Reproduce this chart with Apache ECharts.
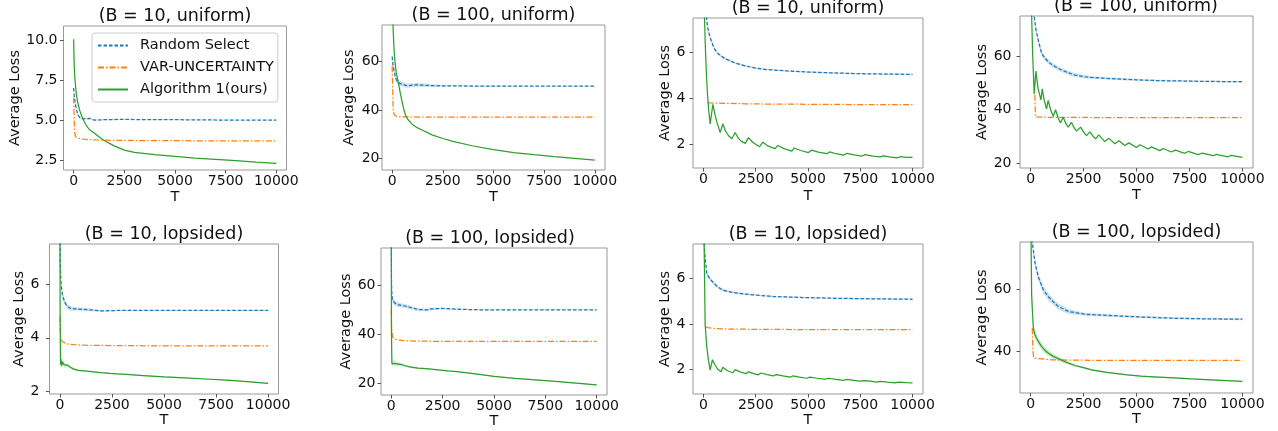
<!DOCTYPE html>
<html><head><meta charset="utf-8">
<script src="https://cdn.jsdelivr.net/npm/echarts@6/dist/echarts.min.js"></script>
<style>html,body{margin:0;padding:0;background:#fff}#c{width:1278px;height:431px}</style>
</head><body><div id="c"></div>
<script>
// ---------------- DATA ----------------
const seriesNames = ['Random Select', 'VAR-UNCERTAINTY', 'Algorithm 1(ours)'];
const titles = ['(B = 10, uniform)', '(B = 100, uniform)', '(B = 10, uniform)', '(B = 100, uniform)',
                '(B = 10, lopsided)', '(B = 100, lopsided)', '(B = 10, lopsided)', '(B = 100, lopsided)'];
const xTicks = [0, 2500, 5000, 7500, 10000];
const yTicksP1 = [2.5, 5, 7.5, 10];
const yTicks100 = [20, 40, 60];
const yTicks10 = [2, 4, 6];
const yTicksP8 = [40, 60];

// Panel 1 and 2 share T grid
const T_a = [0,25,50,100,150,200,300,400,500,600,700,800,1000,1200,1500,2000,2500,3000,4000,5000,6000,7000,8000,9000,10000];
const p1Blue = [7.0,6.6,6.3,5.9,5.6,5.35,5.15,5.08,5.07,5.1,5.08,5.1,5.0,5.0,5.02,5.03,5.04,5.03,5.02,5.02,5.01,5.0,5.0,5.0,5.0];
const p1BlueBand = [0.1,0.1,0.1,0.1,0.08,0.08,0.06,0.06,0.06,0.06,0.06,0.05,0.05,0.04,0.03,0.03,0.03,0.02,0.02,0.02,0.02,0.02,0.02,0.02,0.02];
const p1Orange = [6.4,5.2,4.2,3.95,3.9,3.87,3.84,3.82,3.8,3.79,3.78,3.77,3.76,3.75,3.74,3.73,3.72,3.72,3.71,3.71,3.7,3.7,3.7,3.7,3.7];
const p1Green = [10.05,8.6,7.8,7.0,6.5,6.1,5.6,5.25,4.95,4.72,4.52,4.38,4.2,4.0,3.72,3.38,3.12,2.98,2.83,2.72,2.62,2.54,2.46,2.37,2.29];

const p2Blue = [62,60,58,56,54,52.5,51.2,50.8,50.6,50.3,50.0,50.0,50.2,50.3,50.2,50.0,49.9,49.9,49.8,49.8,49.8,49.8,49.8,49.8,49.8];
const p2BlueBand = [1.5,1.5,1.5,1.2,1.2,1.2,1.0,1.0,1.0,0.9,0.9,0.9,0.8,0.8,0.8,0.6,0.4,0.3,0.2,0.2,0.15,0.15,0.15,0.15,0.15];
const p2Orange = [58,50,40,38,37.6,37.4,37.3,37.2,37.2,37.15,37.1,37.1,37.1,37.05,37.05,37.0,37.0,37.0,37.0,37.0,37.0,37.0,37.0,37.0,37.0];
const p2Green = [100,82,73,64,59,55.5,51.5,47,43,39.5,37.0,35.8,34.0,32.8,31.6,29.6,28.2,27.0,25.1,23.6,22.4,21.5,20.7,20.0,19.3];

// Panel 3
const tP3Blue = [50,100,150,200,300,500,700,1000,1500,2000,2500,3000,4000,5000,6000,7000,8000,9000,10000];
const p3Blue = [9.0,8.0,7.5,7.1,6.7,6.2,5.95,5.75,5.55,5.42,5.32,5.26,5.2,5.15,5.12,5.09,5.07,5.06,5.05];
const p3BlueBand = [0.1,0.1,0.1,0.08,0.08,0.07,0.06,0.06,0.05,0.04,0.04,0.03,0.03,0.03,0.03,0.03,0.03,0.03,0.03];
const tP3Orange = [200,300,500,1000,2000,3000,5000,7000,10000];
const p3Orange = [3.82,3.81,3.8,3.79,3.77,3.76,3.75,3.74,3.74];
const tP3Green = [0,50,100,150,200,250,320,450,550,650,800,925,1050,1200,1360,1515,1650,1800,2000,2150,2350,2680,2840,3100,3430,3560,3850,4230,4340,4650,5020,5180,5500,5900,6030,6350,6700,6860,7200,7580,7740,8100,8450,8610,8900,9250,9410,9700,10000];
const p3Green = [10,7.5,6.0,4.9,4.1,3.5,2.9,3.75,3.3,2.95,2.52,2.9,2.6,2.38,2.25,2.52,2.3,2.15,2.05,2.3,2.1,1.9,2.1,1.93,1.82,1.96,1.82,1.71,1.85,1.74,1.65,1.76,1.67,1.6,1.68,1.6,1.54,1.62,1.55,1.5,1.56,1.5,1.46,1.51,1.46,1.42,1.47,1.44,1.44];

// Panel 4
const tP4Blue = [100,170,250,360,520,700,830,1000,1300,1700,2090,2500,2880,3500,4450,5000,6020,7000,7590,8500,10000];
const p4Blue = [85,75,70,66,61,59,57.9,56.8,55.4,54,52.9,52.3,52,51.7,51.3,51.1,50.8,50.7,50.6,50.5,50.4];
const p4BlueBand = [1,1,1,1,1,0.9,0.9,0.9,0.8,0.8,0.7,0.6,0.5,0.4,0.4,0.3,0.3,0.3,0.3,0.3,0.3];
const tP4Orange = [200,230,300,1000,3000,10000];
const p4Orange = [45.5,37.2,37.1,37.05,37.0,37.0];
const tP4Green = [0,50,100,170,250,350,490,550,650,755,830,950,1070,1180,1300,1415,1540,1660,1780,1930,2050,2170,2360,2500,2640,2800,2950,3070,3220,3500,3700,3980,4170,4450,4640,5000,5160,5550,5710,6100,6260,6650,6840,7280,7440,7910,8100,8620,8770,9320,9480,10000];
const p4Green = [100,75,60,45.8,54.4,48,43.6,47.7,43.2,40.2,43.4,39.8,37.5,39.9,36.8,35,37.1,34.8,33.4,35.2,33.2,31.9,33.4,31.6,30.2,31.6,30,29,30.5,28,29.2,27.2,28.3,26.5,27.5,25.8,26.8,25.2,26,24.6,25.4,24.1,24.8,23.6,24.3,23.1,23.7,22.7,23.2,22.3,22.8,22.1];

// Panels 5 and 6 share T grid
const T_b = [0,10,30,50,80,120,190,250,350,500,670,900,1300,1700,1950,2400,2740,3200,4000,5000,6000,7000,8000,9000,10000];
const p5Blue = [9,7.2,6.5,6.1,5.85,5.6,5.42,5.3,5.17,5.1,5.08,5.07,5.05,5.02,5.0,5.01,5.02,5.02,5.02,5.02,5.02,5.02,5.02,5.02,5.02];
const p5BlueBand = [0.2,0.2,0.2,0.15,0.15,0.12,0.12,0.1,0.1,0.08,0.07,0.06,0.05,0.04,0.03,0.03,0.02,0.02,0.02,0.02,0.02,0.02,0.02,0.02,0.02];
const p5Orange = [4.8,4.4,4.1,3.95,3.9,3.86,3.82,3.8,3.77,3.75,3.74,3.73,3.72,3.72,3.72,3.71,3.71,3.71,3.7,3.7,3.7,3.7,3.7,3.7,3.7];
const p5Green = [10,5,3.0,3.2,2.95,3.1,3.0,2.95,2.98,2.9,2.83,2.78,2.75,2.72,2.7,2.67,2.65,2.63,2.59,2.54,2.5,2.46,2.42,2.36,2.3];
const p5GreenBand = [0.2,0.2,0.15,0.15,0.12,0.1,0.1,0.08,0.06,0.05,0.04,0.03,0.02,0.02,0.02,0.02,0.02,0.02,0.02,0.02,0.02,0.02,0.02,0.02,0.02];

const p6Blue = [80,62,56,54.5,53.5,53,52.5,52.2,51.9,51.6,51.4,50.9,50.0,49.8,50.2,50.4,50.3,50.1,49.9,49.8,49.8,49.8,49.8,49.8,49.8];
const p6BlueBand = [2,1.5,1.2,1.2,1.2,1.0,1.0,1.0,0.9,0.8,0.8,0.7,0.6,0.5,0.5,0.4,0.3,0.3,0.2,0.2,0.15,0.15,0.15,0.15,0.15];
const p6Orange = [50,44,41.5,39.5,38.6,38.2,37.9,37.7,37.6,37.4,37.3,37.2,37.1,37.1,37.05,37.05,37.0,37.0,37.0,37.0,37.0,37.0,37.0,37.0,37.0];
const p6Green = [100,40,28,28.8,27.5,28.5,28,27.8,27.8,27.6,27.1,26.6,26.1,25.9,25.7,25.3,25.0,24.7,23.9,22.8,22.0,21.4,20.7,20.0,19.3];
const p6GreenBand = [2,2,1.5,1.5,1.2,1.0,1.0,0.8,0.7,0.6,0.5,0.4,0.3,0.3,0.2,0.2,0.2,0.2,0.2,0.2,0.2,0.2,0.2,0.2,0.2];

// Panel 7
const tP7Blue = [0,30,80,160,320,480,640,800,960,1200,1435,2070,2700,3350,4940,6540,8000,10000];
const p7Blue = [9,7.5,6.9,6.2,5.96,5.8,5.66,5.55,5.47,5.42,5.37,5.3,5.25,5.2,5.15,5.12,5.1,5.08];
const p7BlueBand = [0.1,0.1,0.1,0.1,0.08,0.08,0.07,0.06,0.06,0.05,0.05,0.04,0.03,0.03,0.03,0.03,0.03,0.03];
const tP7Orange = [100,200,500,1000,1500,3000,5000,10000];
const p7Orange = [3.87,3.84,3.8,3.78,3.77,3.76,3.75,3.75];
const tP7Green = [0,80,160,240,320,430,550,700,845,925,1150,1400,1515,1750,2040,2150,2400,2630,2740,3050,3350,3480,3800,4150,4270,4600,4940,5100,5450,5820,5980,6350,6700,6860,7200,7500,7660,8000,8290,8450,8800,9170,9330,9700,10000];
const p7Green = [10,4.0,2.97,2.4,1.98,2.43,2.2,2.0,1.9,2.1,1.95,1.86,2.0,1.9,1.82,1.9,1.82,1.77,1.85,1.78,1.72,1.78,1.72,1.67,1.72,1.67,1.62,1.67,1.62,1.58,1.62,1.57,1.53,1.57,1.53,1.49,1.52,1.49,1.45,1.48,1.45,1.42,1.45,1.43,1.42];

// Panel 8
const tP8Blue = [0,80,200,360,600,830,1050,1300,1780,2560,3660,5240,6810,8500,10000];
const p8Blue = [90,75,68.7,63.9,59.7,57.6,56,54.4,52.8,51.9,51.5,51,50.6,50.4,50.3];
const p8BlueBand = [1.5,1.5,1.2,1.2,1.2,1.2,1.0,1.0,0.8,0.5,0.4,0.3,0.3,0.3,0.3];
const tP8Orange = [80,110,150,300,1000,3000,10000];
const p8Orange = [47.4,40,37.9,37.7,37.3,37.15,37.1];
const tP8Green = [0,30,50,80,130,200,280,400,520,670,830,1050,1300,1700,2090,2500,2880,3600,4450,5200,6020,6800,7590,8500,10000];
const p8Green = [100,70,58,53.8,47.4,45.5,44.3,42.8,41.6,40.4,39.5,38.5,37.7,36.5,35.5,34.8,34.1,33.3,32.6,32.1,31.8,31.5,31.2,30.9,30.4];
const p8GreenBand = [3,3,2.5,2.0,1.5,1.5,1.2,1.2,1.0,1.0,0.9,0.8,0.7,0.5,0.4,0.3,0.3,0.2,0.2,0.2,0.2,0.2,0.2,0.2,0.2];

// ---------------- LAYOUT ----------------
const FONT = 'DejaVu Sans';
const C = {blue:'#1f77b4', orange:'#ff7f0e', green:'#2ca02c'};
const TXT = '#111';

const panels = [
  {grid:[63.5,26,223,144], t:[175,16],  y:[1.875,10.875], yt:yTicksP1, dec:1, ylm:6,  yng:39, xng:19.5,
   blue:[T_a,p1Blue,p1BlueBand], orange:[T_a,p1Orange], green:[T_a,p1Green,null]},
  {grid:[382,25,223,145],  t:[493.5,15], y:[15.2,75], yt:yTicks100, dec:0, ylm:2.5, yng:25.5, xng:19.5,
   blue:[T_a,p2Blue,p2BlueBand], orange:[T_a,p2Orange], green:[T_a,p2Green,null]},
  {grid:[693,18,230,150],  t:[808,8.5],  y:[0.98,7.5], yt:yTicks10, dec:0, ylm:7.5, yng:17, xng:21,
   blue:[tP3Blue,p3Blue,p3BlueBand], orange:[tP3Orange,p3Orange], green:[tP3Green,p3Green,null]},
  {grid:[1020,16,233,152], t:[1136,6.8], y:[18.1,75], yt:yTicks100, dec:0, ylm:8.5, yng:27, xng:19.5,
   blue:[tP4Blue,p4Blue,p4BlueBand], orange:[tP4Orange,p4Orange], green:[tP4Green,p4Green,null]},
  {grid:[49.5,244,229,150], t:[164,234.5], y:[1.9,7.5], yt:yTicks10, dec:0, ylm:10, yng:18, xng:17,
   blue:[T_b,p5Blue,p5BlueBand], orange:[T_b,p5Orange], green:[T_b,p5Green,p5GreenBand]},
  {grid:[381,248,226,147], t:[490,238.5], y:[15.2,75], yt:yTicks100, dec:0, ylm:5.5, yng:26, xng:18.5,
   blue:[T_b,p6Blue,p6BlueBand], orange:[T_b,p6Orange], green:[T_b,p6Green,p6GreenBand]},
  {grid:[693,244,230,150], t:[808,234.5], y:[0.93,7.5], yt:yTicks10, dec:0, ylm:7.5, yng:17, xng:16,
   blue:[tP7Blue,p7Blue,p7BlueBand], orange:[tP7Orange,p7Orange], green:[tP7Green,p7Green,null]},
  {grid:[1020,242,233,151], t:[1136.5,232.5], y:[26.7,75], yt:yTicksP8, dec:0, ylm:8.5, yng:27, xng:18,
   blue:[tP8Blue,p8Blue,p8BlueBand], orange:[tP8Orange,p8Orange], green:[tP8Green,p8Green,p8GreenBand]}
];

function pts(t, v) { return t.map((x, i) => [x, v[i]]); }
function line(name, t, v, gi, color, dash, z) {
  return {type:'line', name, xAxisIndex:gi, yAxisIndex:gi, data:pts(t, v), symbol:'none', showSymbol:false,
    clip:true, z, lineStyle:{color, width:1.25, type:dash}, itemStyle:{color}, emphasis:{disabled:true}};
}
// shaded std band: polygon through the upper and lower bounds, placed with the axis scales
function band(t, v, h, gi, color) {
  return {type:'custom', xAxisIndex:gi, yAxisIndex:gi, data:[[t[0], v[0]]], silent:true, z:1,
    renderItem:(params, api) => {
      const up = t.map((x, i) => api.coord([x, v[i] + h[i]]));
      const lo = t.map((x, i) => api.coord([x, v[i] - h[i]])).reverse();
      const cs = params.coordSys;
      const poly = echarts.graphic.clipPointsByRect(up.concat(lo), {x:cs.x, y:cs.y, width:cs.width, height:cs.height});
      return {type:'polygon', shape:{points:poly}, style:{fill:color, opacity:0.22}};
    }};
}

const series = [];
panels.forEach((p, i) => {
  if (p.blue[2]) series.push(band(p.blue[0], p.blue[1], p.blue[2], i, C.blue));
  if (p.green[2]) series.push(band(p.green[0], p.green[1], p.green[2], i, C.green));
  series.push(line(seriesNames[0], p.blue[0], p.blue[1], i, C.blue, [3.5, 2], 3));
  series.push(line(seriesNames[1], p.orange[0], p.orange[1], i, C.orange, [6, 2, 1.5, 2], 4));
  series.push(line(seriesNames[2], p.green[0], p.green[1], i, C.green, 'solid', 5));
});

const option = {
  animation:false,
  backgroundColor:'#fff',
  textStyle:{fontFamily:FONT},
  grid: panels.map(p => ({left:p.grid[0], top:p.grid[1], width:p.grid[2], height:p.grid[3],
    show:true, borderColor:'#999', borderWidth:1, backgroundColor:'transparent', containLabel:false, outerBoundsMode:'none'})),
  xAxis: panels.map((p, i) => ({type:'value', gridIndex:i, min:-500, max:10500, position:'bottom',
    axisLine:{show:false, onZero:false}, splitLine:{show:false},
    axisTick:{show:true, inside:false, length:3.5, customValues:xTicks, lineStyle:{color:'#555', width:1}},
    axisLabel:{customValues:xTicks, fontSize:14, color:TXT, fontFamily:FONT, margin:4, formatter: v => String(v)},
    name:'T', nameLocation:'middle', nameGap:p.xng, nameTextStyle:{fontSize:14.5, color:TXT, fontFamily:FONT}})),
  yAxis: panels.map((p, i) => ({type:'value', gridIndex:i, min:p.y[0], max:p.y[1], position:'left',
    axisLine:{show:false, onZero:false}, splitLine:{show:false},
    axisTick:{show:true, inside:false, length:3.5, customValues:p.yt, lineStyle:{color:'#555', width:1}},
    axisLabel:{customValues:p.yt, fontSize:14, color:TXT, fontFamily:FONT, margin:p.ylm,
      formatter: v => v.toFixed(p.dec)},
    name:'Average Loss', nameLocation:'middle', nameGap:p.yng, nameRotate:90,
    nameTextStyle:{fontSize:14.5, color:TXT, fontFamily:FONT}})),
  legend: {data:seriesNames, orient:'vertical', left:92, top:33, itemWidth:30, itemHeight:14, itemGap:7,
    padding:[5,4,5,5], borderColor:'#ccc', borderWidth:1, borderRadius:3, backgroundColor:'rgba(255,255,255,0.85)',
    itemStyle:{opacity:0},
    textStyle:{fontSize:14.5, fontFamily:FONT, color:TXT, padding:[0,0,0,7]}, selectedMode:false, z:20},
  graphic: panels.map((p, i) => ({type:'text', x:p.t[0], y:p.t[1], z:100,
    style:{text:titles[i], fontSize:17.5, fontFamily:FONT, fill:TXT, textAlign:'center', textVerticalAlign:'middle',
      align:'center', verticalAlign:'middle'}})),
  series
};
const chart = echarts.init(document.getElementById('c'), null, {renderer:'canvas'});
chart.setOption(option);
</script></body></html>
